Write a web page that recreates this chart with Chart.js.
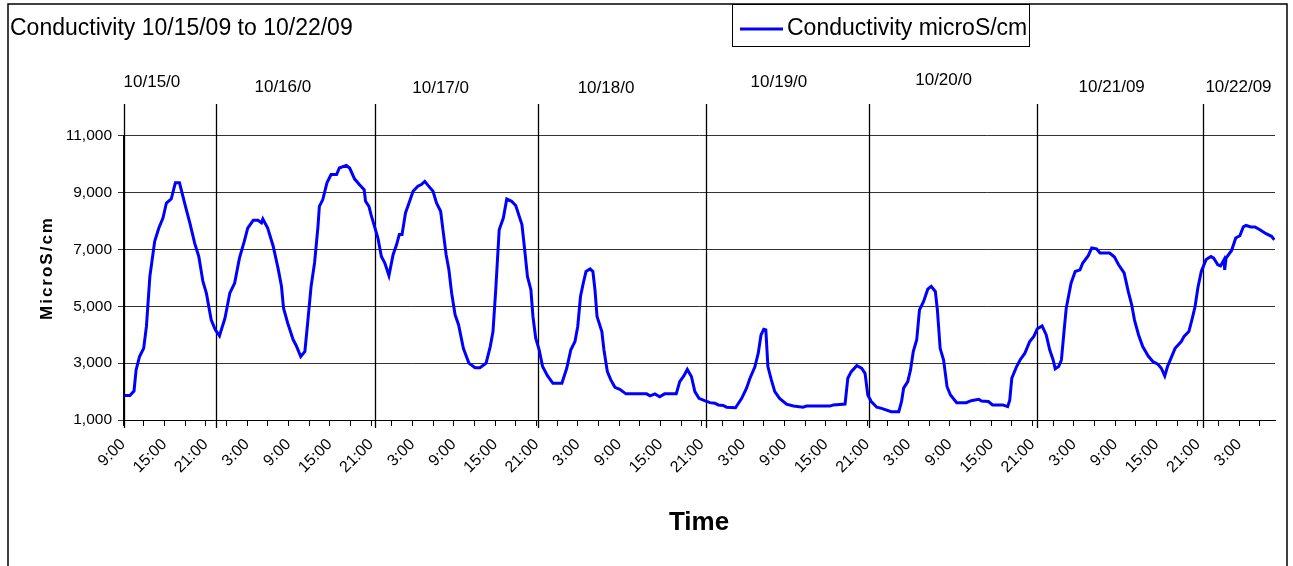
<!DOCTYPE html>
<html>
<head>
<meta charset="utf-8">
<title>Conductivity 10/15/09 to 10/22/09</title>
<script src="https://cdn.jsdelivr.net/npm/chart.js@4.4.1/dist/chart.umd.min.js"></script>
<style>
  html, body { margin: 0; padding: 0; background: #fff; }
  #wrap { width: 1293px; height: 566px; }
</style>
</head>
<body>
<div id="wrap"><canvas id="chart" width="1293" height="566"></canvas></div>
<script>
// hours after 10/15/09 9:00
const hours = [
  0.2, 1.0, 1.6, 1.9, 2.4, 3.0, 3.4, 3.9, 4.6, 5.2, 5.8, 6.3, 7.0, 7.6, 8.2, 9.0, 9.7, 10.4, 11.0, 11.6,
  12.1, 12.8, 13.4, 14.0, 14.8, 15.5, 16.2, 16.9, 17.6, 18.1, 18.9, 19.6, 20.1, 20.3, 21.0, 21.8, 22.5, 23.0, 23.3, 23.9,
  24.7, 25.1, 25.8, 26.4, 26.8, 27.3, 27.8, 28.3, 28.5, 29.0, 29.6, 30.2, 31.0, 31.4, 32.4, 32.9, 33.6, 34.3, 35.0, 35.2,
  35.7, 36.0, 36.5, 37.0, 37.5, 38.0, 38.6, 39.2, 39.7, 40.1, 40.5, 41.0, 41.6, 42.1, 42.8, 43.3, 43.8, 44.3, 45.0, 45.5,
  46.1, 46.5, 46.9, 47.3, 47.7, 48.2, 48.7, 49.4, 50.2, 51.1, 51.8, 52.7, 53.3, 53.7, 54.1, 54.6, 55.2, 55.7, 56.4, 57.0,
  57.9, 58.3, 58.7, 59.2, 59.5, 59.9, 60.4, 60.9, 61.6, 62.4, 63.7, 64.4, 65.0, 65.6, 66.0, 66.4, 66.8, 67.2, 67.8, 68.2,
  68.5, 68.8, 69.5, 69.8, 70.3, 70.8, 71.4, 72.1, 73.0, 76.0, 76.5, 77.2, 77.9, 78.6, 80.3, 80.8, 81.4, 81.9, 82.5, 83.0,
  83.6, 84.4, 85.2, 85.9, 86.4, 87.1, 87.6, 88.9, 89.8, 90.5, 91.0, 91.7, 92.2, 92.6, 93.0, 93.3, 93.6, 94.1, 94.6, 95.3,
  96.3, 97.3, 98.7, 99.2, 102.6, 103.1, 104.8, 105.2, 105.7, 106.5, 107.2, 107.7, 108.1, 108.6, 109.4, 110.1, 111.5, 112.6, 113.0, 113.3,
  113.9, 114.3, 114.7, 115.2, 115.6, 116.2, 116.8, 117.3, 117.9, 118.2, 118.6, 119.1, 119.6, 120.1, 121.0, 122.4, 123.1, 124.2, 124.6, 125.6,
  126.2, 127.7, 128.4, 128.7, 129.0, 129.7, 130.2, 130.9, 131.6, 132.2, 132.7, 133.4, 134.0, 134.5, 135.0, 135.3, 135.8, 136.2, 136.6, 136.9,
  137.6, 138.2, 138.9, 139.3, 140.1, 140.6, 141.3, 141.8, 143.2, 143.9, 144.5, 145.3, 145.9, 146.4, 146.8, 147.4, 148.0, 148.8, 149.5, 150.2,
  150.7, 151.2, 151.6, 152.2, 152.7, 153.6, 154.0, 154.7, 155.2, 155.6, 156.0, 156.5, 157.2, 157.9, 158.3, 158.9, 159.3, 159.8, 159.9, 160.1,
  160.9, 161.5, 162.1, 162.6, 163.0, 163.7, 164.3, 165.0, 165.9, 166.7, 167.1
];
const conductivity = [
  1860, 1860, 2020, 2760, 3230, 3520, 4290, 6050, 7280, 7750, 8100, 8630, 8770, 9340, 9340, 8570, 7930, 7220, 6750, 5870,
  5460, 4520, 4170, 3960, 4580, 5460, 5810, 6690, 7280, 7750, 8020, 8020, 7930, 8070, 7750, 7110, 6340, 5700, 4930, 4410,
  3820, 3640, 3230, 3410, 4410, 5700, 6520, 7810, 8510, 8750, 9340, 9630, 9630, 9860, 9950, 9860, 9480, 9280, 9100, 8690,
  8510, 8220, 7810, 7400, 6750, 6520, 6080, 6810, 7160, 7520, 7520, 8280, 8690, 9040, 9220, 9280, 9390, 9240, 9040, 8630,
  8340, 7570, 6810, 6280, 5460, 4700, 4350, 3520, 3000, 2840, 2840, 3000, 3580, 4110, 5580, 7690, 8100, 8770, 8690, 8540,
  7870, 6990, 6050, 5580, 4640, 3880, 3470, 2880, 2560, 2290, 2290, 2820, 3470, 3760, 4290, 5340, 5810, 6220, 6310, 6220,
  5580, 4640, 4110, 3470, 2700, 2410, 2150, 2080, 1920, 1920, 1850, 1920, 1820, 1920, 1920, 2350, 2550, 2780, 2530, 2000,
  1760, 1680, 1610, 1590, 1530, 1510, 1450, 1430, 1760, 2120, 2470, 2860, 3350, 3990, 4190, 4170, 2880, 2410, 2000, 1760,
  1560, 1490, 1450, 1490, 1490, 1530, 1560, 2470, 2700, 2910, 2820, 2640, 1880, 1650, 1450, 1410, 1290, 1290, 1650, 2120,
  2350, 2760, 3410, 3820, 4870, 5170, 5600, 5700, 5520, 4870, 3520, 3110, 2170, 1880, 1610, 1610, 1680, 1730, 1670, 1650,
  1530, 1530, 1470, 1700, 2470, 2880, 3110, 3350, 3760, 3940, 4210, 4310, 3990, 3470, 3110, 2800, 2880, 3110, 4170, 4930,
  5810, 6220, 6280, 6520, 6780, 7050, 7020, 6870, 6870, 6730, 6460, 6170, 5520, 5050, 4520, 3990, 3580, 3250, 3050, 2960,
  2820, 2550, 2880, 3230, 3520, 3760, 3940, 4110, 4580, 4990, 5640, 6220, 6640, 6750, 6690, 6460, 6420, 6640, 6280, 6690,
  6960, 7400, 7480, 7790, 7840, 7790, 7790, 7690, 7550, 7460, 7340
];
const yTicks = [1000, 3000, 5000, 7000, 9000, 11000];
const tickHours = Array.from({ length: 56 }, (_, i) => i * 3);
const dayLabels = ['10/15/0', '10/16/0', '10/17/0', '10/18/0', '10/19/0', '10/20/0', '10/21/09', '10/22/09'];
// hand drawn day markers (hours after start)
const dayLineHours = [0.1, 13.5, 36.6, 60.2, 84.6, 108.3, 132.6, 156.7];
const dayLabelHours = [4.2, 23.2, 46.1, 70.1, 95.2, 119.1, 143.5, 161.9];
const dayLabelY = [82, 87, 88, 88, 82, 80, 87, 87];

const FONT = "'Liberation Sans', Arial, sans-serif";
Chart.defaults.font.family = FONT;
Chart.defaults.color = '#000';

const decor = {
  id: 'decor',
  beforeDraw(chart) {
    const { ctx } = chart;
    ctx.save();
    ctx.fillStyle = '#fff';
    ctx.fillRect(0, 0, chart.width, chart.height);
    ctx.restore();
  },
  beforeDatasetsDraw(chart) {
    const { ctx, scales: { x } } = chart;
    ctx.save();
    ctx.strokeStyle = '#000';
    ctx.lineWidth = 1.3;
    dayLineHours.forEach(h => {
      const px = Math.round(x.getPixelForValue(h)) + 0.5;
      ctx.beginPath();
      ctx.moveTo(px, 104);
      ctx.lineTo(px, 428);
      ctx.stroke();
    });
    ctx.restore();
  },
  afterDraw(chart) {
    const { ctx, scales: { x } } = chart;
    ctx.save();
    // outer frame
    ctx.strokeStyle = '#000';
    ctx.lineWidth = 1.5;
    ctx.strokeRect(8, 4, 1279, 600);

    // date labels
    ctx.fillStyle = '#000';
    ctx.font = '17px ' + FONT;
    ctx.textAlign = 'center';
    ctx.textBaseline = 'middle';
    dayLabels.forEach((t, i) => ctx.fillText(t, x.getPixelForValue(dayLabelHours[i]), dayLabelY[i]));

    // legend box
    ctx.lineWidth = 1;
    ctx.strokeRect(732.5, 4.5, 297, 42);
    ctx.strokeStyle = '#0000ff';
    ctx.lineWidth = 3;
    ctx.beginPath();
    ctx.moveTo(740, 29);
    ctx.lineTo(783, 29);
    ctx.stroke();
    ctx.font = '23px ' + FONT;
    ctx.textAlign = 'left';
    ctx.fillText(chart.data.datasets[0].label, 787, 29);

    // y axis title
    ctx.translate(47, 268);
    ctx.rotate(-Math.PI / 2);
    ctx.font = 'bold 17px ' + FONT;
    ctx.letterSpacing = '2px';
    ctx.textAlign = 'center';
    ctx.fillText('MicroS/cm', 0, 0);
    ctx.restore();
  }
};

new Chart(document.getElementById('chart'), {
  type: 'line',
  data: {
    datasets: [{
      label: 'Conductivity microS/cm',
      data: hours.map((h, i) => ({ x: h, y: conductivity[i] })),
      borderColor: '#0000ff',
      borderWidth: 3,
      pointRadius: 0,
      tension: 0,
      fill: false
    }]
  },
  options: {
    responsive: false,
    animation: false,
    layout: { padding: { left: 10, right: 18, top: 0, bottom: 0 } },
    plugins: {
      legend: { display: false },
      tooltip: { enabled: false },
      title: {
        display: true, align: 'start', text: 'Conductivity 10/15/09 to 10/22/09',
        font: { size: 23, weight: 'normal' }, color: '#000', padding: { top: 15, bottom: 93 }
      }
    },
    scales: {
      x: {
        type: 'linear', min: 0, max: 167.2,
        afterBuildTicks: s => { s.ticks = tickHours.map(v => ({ value: v })); },
        afterFit: s => { s.height = 146; },
        grid: { drawOnChartArea: false, drawTicks: true, tickLength: 6, color: '#000' },
        border: { color: '#000', width: 1 },
        ticks: {
          autoSkip: false, minRotation: 45, maxRotation: 45, padding: 9,
          font: { size: 16 }, color: '#000',
          callback: v => (v % 6 === 0 ? ((9 + v) % 24) + ':00' : '')
        },
        title: { display: true, text: 'Time', font: { size: 26, weight: 'bold' }, color: '#000', padding: { bottom: 28 } }
      },
      y: {
        min: 1000, max: 11000,
        afterBuildTicks: s => { s.ticks = yTicks.map(v => ({ value: v })); },
        afterFit: s => { s.width = 113; },
        grid: { color: '#333', lineWidth: 1, tickLength: 5 },
        border: { color: '#000', width: 1 },
        ticks: { padding: 6, font: { size: 15.5 }, color: '#000' }
      }
    }
  },
  plugins: [decor]
});
</script>
</body>
</html>
